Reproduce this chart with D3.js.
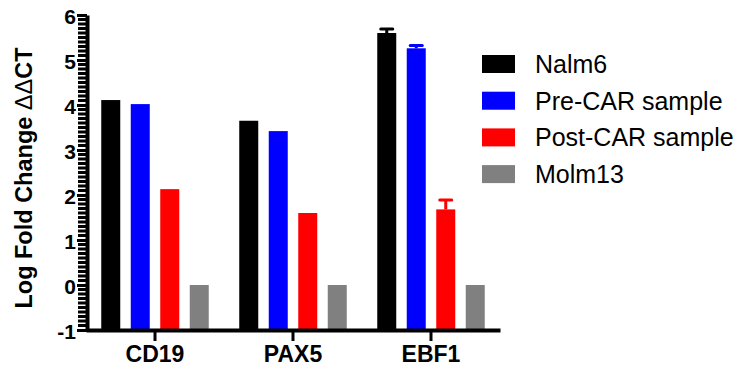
<!DOCTYPE html>
<html>
<head>
<meta charset="utf-8">
<script src="https://cdn.jsdelivr.net/npm/d3@7"></script>
<style>
  html, body { margin: 0; padding: 0; background: #fff; }
  svg { display: block; font-family: "Liberation Sans", Arial, sans-serif; }
</style>
</head>
<body>
<svg id="chart" width="744" height="372"></svg>
<script>
// Genes on the x axis
const categories = ["CD19", "PAX5", "EBF1"];
// Sample series (legend order)
const seriesNames = ["Nalm6", "Pre-CAR sample", "Post-CAR sample", "Molm13"];
const seriesColors = ["#000000", "#0000ff", "#ff0000", "#808080"];
// Log fold change (ΔΔCT) per gene, one array per sample
const nalm6 = [4.11, 3.65, 5.60];
const preCar = [4.02, 3.42, 5.26];
const postCar = [2.13, 1.60, 1.68];
const molm13 = [0, 0, 0];
// Upper error (SD) per gene
const nalm6Err = [0, 0, 0.09];
const preCarErr = [0, 0, 0.06];
const postCarErr = [0, 0, 0.21];
const molm13Err = [0, 0, 0];
// Y axis ticks and their labels
const yTicks = [-1, 0, 1, 2, 3, 4, 5, 6];
const yTickLabels = ["-1", "0", "1", "2", "3", "4", "5", "6"];

const seriesValues = [nalm6, preCar, postCar, molm13];
const seriesErrors = [nalm6Err, preCarErr, postCarErr, molm13Err];

const rows = [];
categories.forEach((cat, ci) => {
  seriesNames.forEach((s, si) => {
    rows.push({ cat, series: s, si, value: seriesValues[si][ci], err: seriesErrors[si][ci] });
  });
});

const svg = d3.select("#chart");

const x = d3.scaleBand().domain(categories).range([86, 500]);
const xs = d3.scaleBand().domain(seriesNames).range([-59, 59])
  .paddingInner(0.356).paddingOuter(0.178);
const y = d3.scaleLinear().domain([-1, 6]).range([330, 15]);
const base = y.domain()[0];
const cx = d => x(d.cat) + x.bandwidth() / 2 + xs(d.series) + xs.bandwidth() / 2;

// Bars (drawn up from the bottom of the axis)
svg.append("g").selectAll("rect").data(rows).join("rect")
  .attr("x", d => x(d.cat) + x.bandwidth() / 2 + xs(d.series))
  .attr("width", xs.bandwidth())
  .attr("y", d => y(d.value))
  .attr("height", d => y(base) - y(d.value))
  .attr("fill", d => seriesColors[d.si]);

// Error bars (upper only)
const eb = svg.append("g").selectAll("g").data(rows.filter(d => d.err > 0)).join("g")
  .attr("stroke", d => seriesColors[d.si])
  .attr("stroke-width", 3);
eb.append("line")
  .attr("x1", cx).attr("x2", cx)
  .attr("y1", d => y(d.value))
  .attr("y2", d => y(d.value + d.err));
eb.append("line")
  .attr("x1", d => cx(d) - 6)
  .attr("x2", d => cx(d) + 6)
  .attr("y1", d => y(d.value + d.err))
  .attr("y2", d => y(d.value + d.err))
  .attr("stroke-linecap", "round");

// Y axis minor ticks every 0.1
const minorTicks = d3.range(-10, 61).filter(v => v % 10 !== 0).map(v => v / 10);
svg.append("g").attr("class", "minor").selectAll("line").data(minorTicks).join("line")
  .attr("x1", 78).attr("x2", 88)
  .attr("y1", d => y(d)).attr("y2", d => y(d))
  .attr("stroke", "#000").attr("stroke-width", 3);

// Y axis with major ticks at integers
const yAxis = svg.append("g").attr("transform", "translate(87,0)")
  .call(d3.axisLeft(y).tickValues(yTicks).tickSize(10).tickPadding(1).tickSizeOuter(0)
    .tickFormat((d, i) => yTickLabels[i]));
yAxis.select(".domain").attr("stroke", "#000").attr("stroke-width", 4);
yAxis.selectAll(".tick line").attr("stroke", "#000").attr("stroke-width", 3);
yAxis.selectAll(".tick text")
  .attr("font-family", "'Liberation Sans', Arial, sans-serif")
  .attr("font-size", 21).attr("font-weight", "bold").attr("fill", "#000")
  .attr("dy", "0.4em");

// X axis
const xAxis = svg.append("g").attr("transform", "translate(0,330)")
  .call(d3.axisBottom(x).tickSize(11).tickPadding(5).tickSizeOuter(0));
xAxis.select(".domain").attr("stroke", "#000").attr("stroke-width", 4);
xAxis.selectAll(".tick line").attr("stroke", "#000").attr("stroke-width", 3);
xAxis.selectAll(".tick text")
  .attr("font-family", "'Liberation Sans', Arial, sans-serif")
  .attr("font-size", 23).attr("font-weight", "bold").attr("fill", "#000");

// Y axis title
const yTitle = svg.append("text")
  .attr("transform", "translate(32,178) rotate(-90)")
  .attr("text-anchor", "middle")
  .attr("font-size", 23.5).attr("font-weight", "bold").attr("fill", "#000");
yTitle.append("tspan").text("Log Fold Change ");
yTitle.append("tspan").attr("font-weight", "normal").text("ΔΔ");
yTitle.append("tspan").text("CT");

// Legend
const legend = svg.append("g").selectAll("g").data(seriesNames).join("g")
  .attr("transform", (d, i) => `translate(482,${55 + i * 36.7})`);
legend.append("rect")
  .attr("width", 33).attr("height", 18)
  .attr("fill", (d, i) => seriesColors[i]);
legend.append("text")
  .attr("x", 53).attr("y", 18)
  .attr("font-size", 25).attr("fill", "#000")
  .text(d => d);
</script>
</body>
</html>
